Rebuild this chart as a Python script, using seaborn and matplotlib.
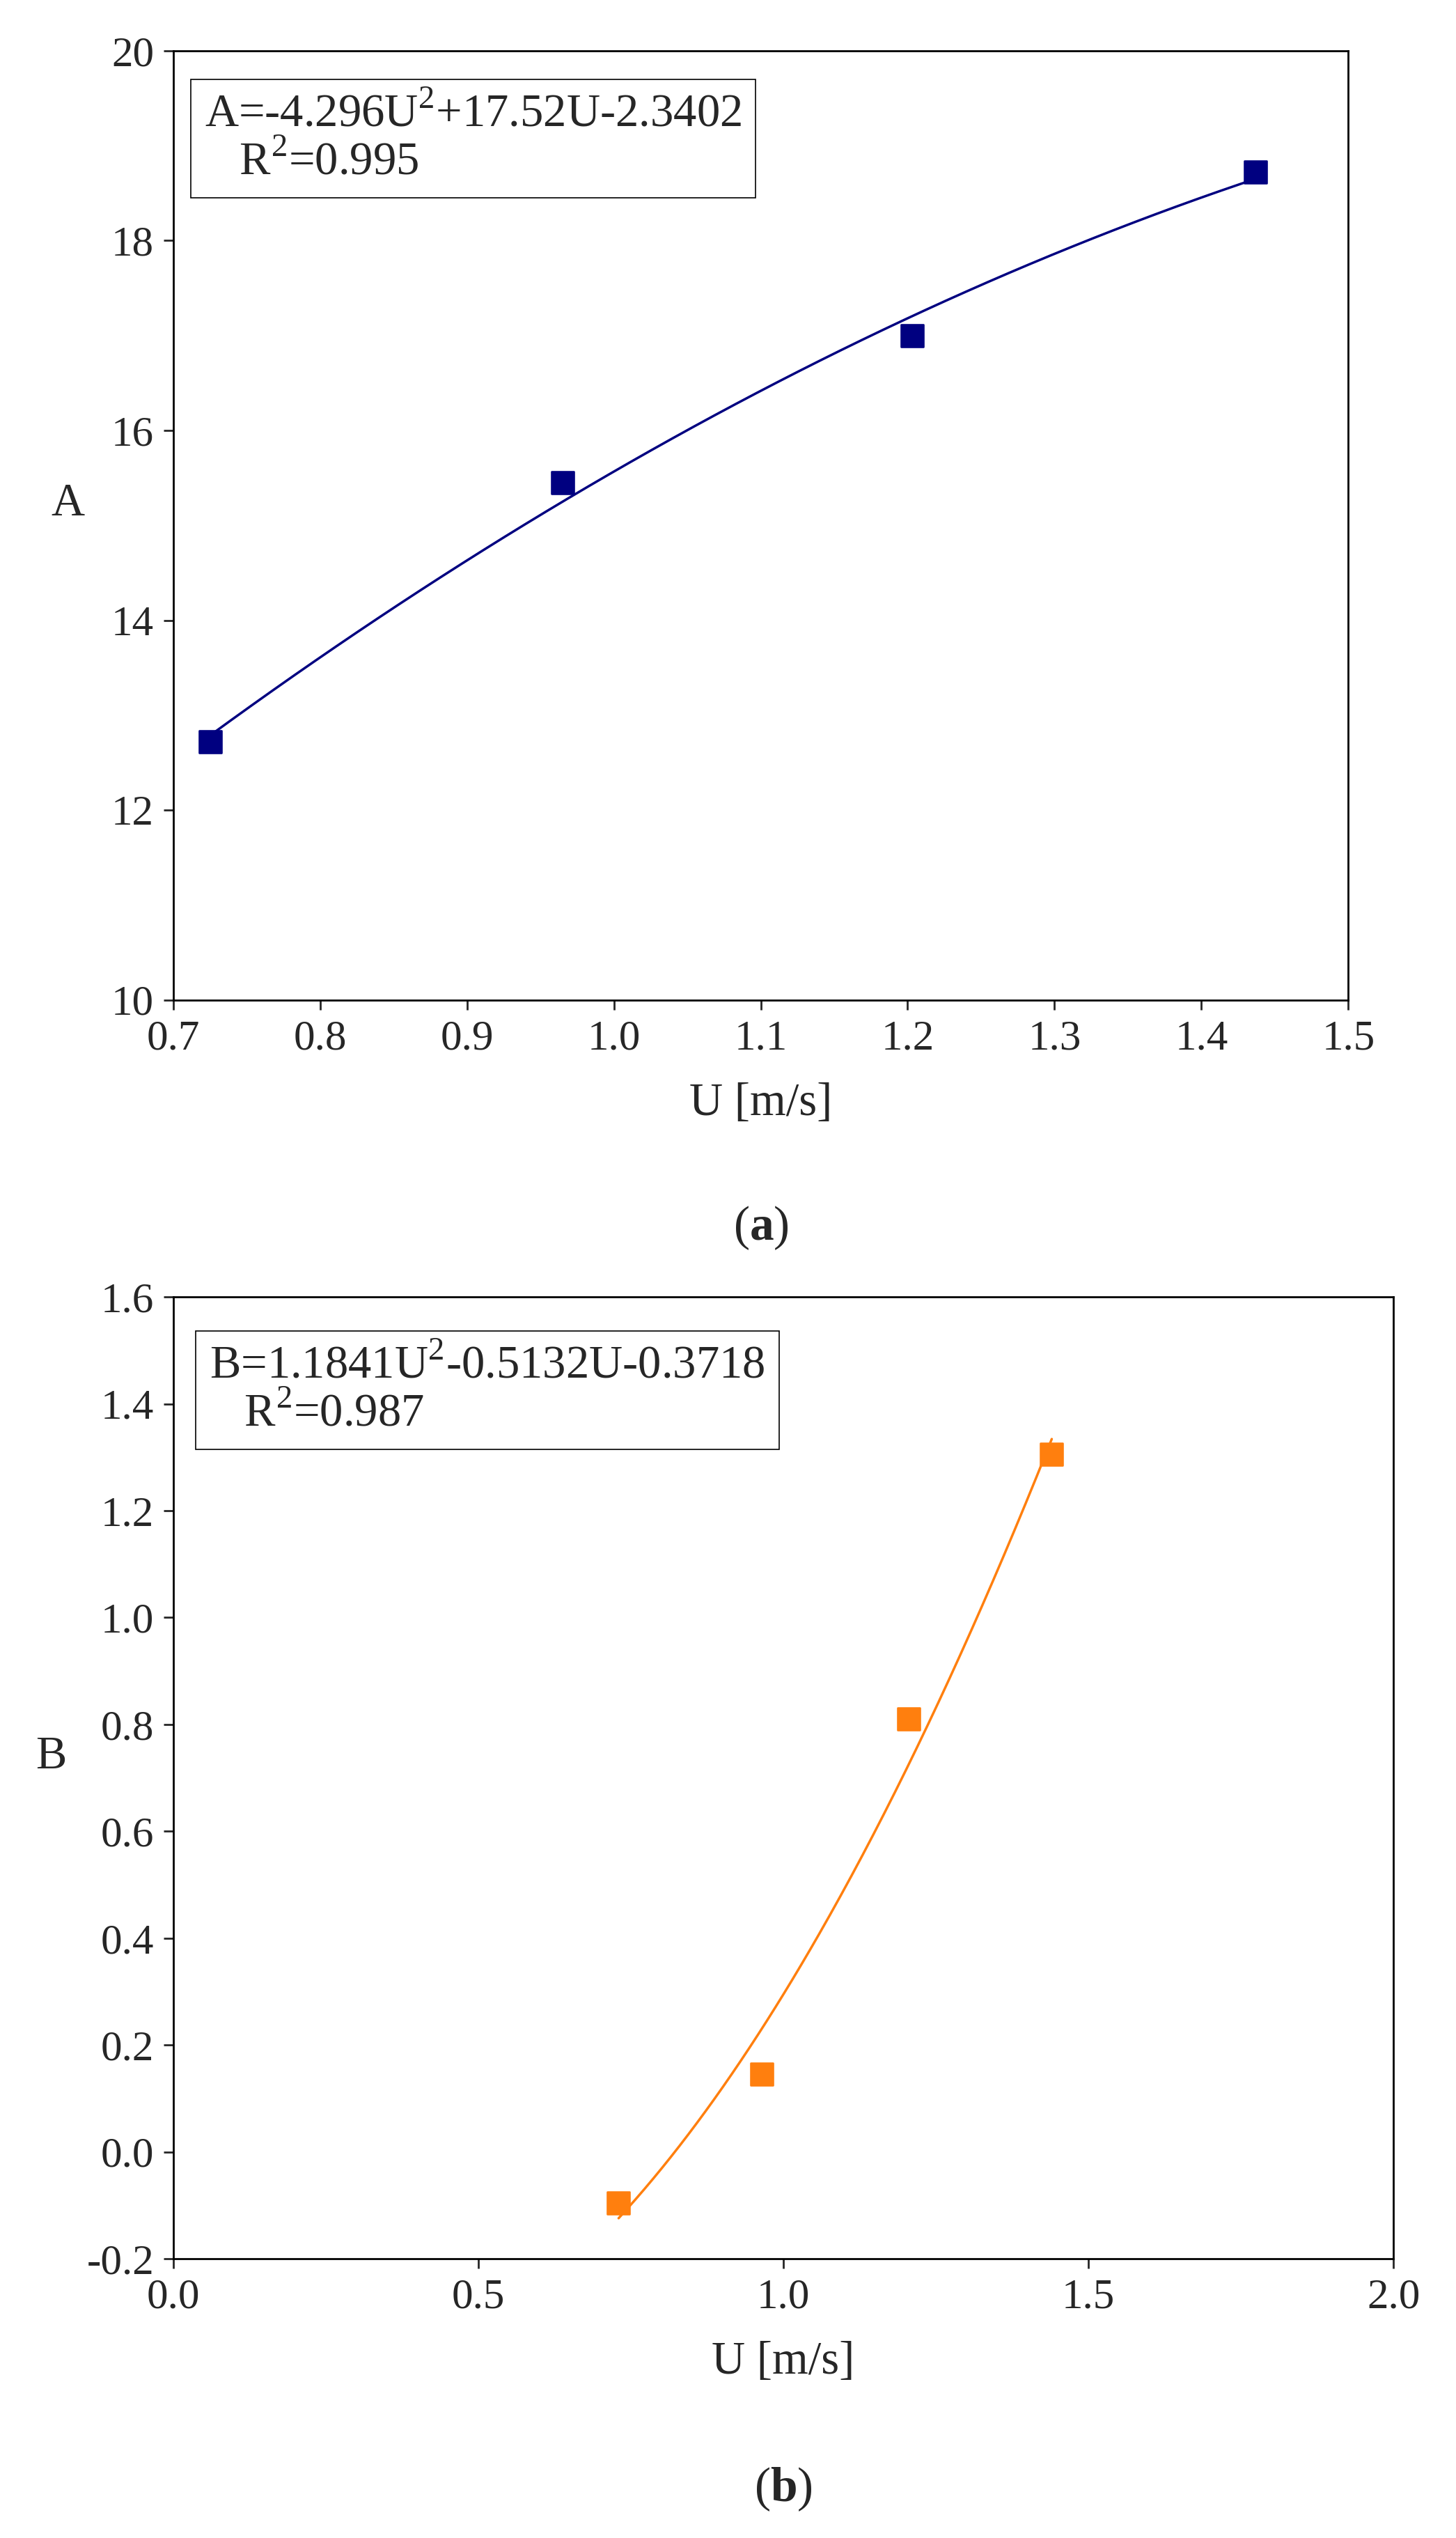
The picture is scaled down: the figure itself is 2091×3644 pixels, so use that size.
import numpy as np
import matplotlib
matplotlib.use("Agg")
import matplotlib.pyplot as plt
import seaborn as sns

sns.set_theme(style="ticks")
plt.rcParams['font.family'] = ['Liberation Serif', 'DejaVu Serif']
plt.rcParams['mathtext.fontset'] = 'custom'
plt.rcParams['mathtext.rm'] = 'Liberation Serif'
plt.rcParams['mathtext.bf'] = 'Liberation Serif:bold'

u_a = [0.725, 0.965, 1.203, 1.437]
A_vals = [12.72, 15.45, 17.0, 18.72]
u_b = [0.73, 0.965, 1.205, 1.44]
B_vals = [-0.095, 0.145, 0.81, 1.305]

fs = 44
fig = plt.figure(figsize=(20.91, 36.44), dpi=100)
ax1 = fig.add_axes([0.119, 0.606, 0.807, 0.374])
ax2 = fig.add_axes([0.119, 0.110, 0.838, 0.379])

def panel(ax, x, y, color, xlim, xticks, ylim, yticks, ylabels, ylab, eq, r2, tag, boxpos, ylabpos):
    c = np.polyfit(x, y, 2)
    xs = np.linspace(x[0], x[-1], 200)
    ax.plot(xs, np.polyval(c, xs), color=color, lw=2.5)
    sns.scatterplot(x=x, y=y, ax=ax, color=color, marker='s', s=550, edgecolor=color, zorder=3)
    ax.set_xlim(*xlim); ax.set_ylim(*ylim)
    ax.set_xticks(xticks); ax.set_yticks(yticks)
    ax.set_xticklabels([f"{t:.1f}" for t in xticks], fontsize=fs)
    ax.set_yticklabels(ylabels, fontsize=fs)
    ax.tick_params(direction='out', length=10, width=2, pad=10)
    for s in ax.spines.values():
        s.set_linewidth(2); s.set_color('black')
    ax.set_xlabel("U [m/s]", fontsize=fs+4, labelpad=25)
    ax.set_ylabel(ylab, fontsize=fs+4, rotation=0)
    ax.yaxis.set_label_coords(*ylabpos)
    ax.text(boxpos[0], boxpos[1], eq + "\n   " + r2, transform=ax.transAxes, fontsize=fs+4,
            va='top', ha='left', linespacing=1.15,
            bbox=dict(boxstyle='square,pad=0.3', fc='white', ec='black', lw=1.2))
    ax.text(0.5, -0.215, tag, transform=ax.transAxes, fontsize=fs+6, ha='center', va='top')

panel(ax1, u_a, A_vals, '#000080', (0.7, 1.5), [0.7,0.8,0.9,1.0,1.1,1.2,1.3,1.4,1.5],
      (10, 20), [10,12,14,16,18,20], ["10","12","14","16","18","20"], "A",
      r"A=-4.296U$^2$+17.52U-2.3402", r"R$^2$=0.995",
      r"($\mathbf{a}$)", (0.027, 0.955), (-0.09, 0.5))
panel(ax2, u_b, B_vals, '#FF7F0E', (0.0, 2.0), [0.0,0.5,1.0,1.5,2.0],
      (-0.2, 1.6), [-0.2,0.0,0.2,0.4,0.6,0.8,1.0,1.2,1.4,1.6],
      ["-0.2","0.0","0.2","0.4","0.6","0.8","1.0","1.2","1.4","1.6"], "B",
      r"B=1.1841U$^2$-0.5132U-0.3718", r"R$^2$=0.987",
      r"($\mathbf{b}$)", (0.03, 0.95), (-0.1, 0.5))
fig.savefig("out.png", dpi=100)
